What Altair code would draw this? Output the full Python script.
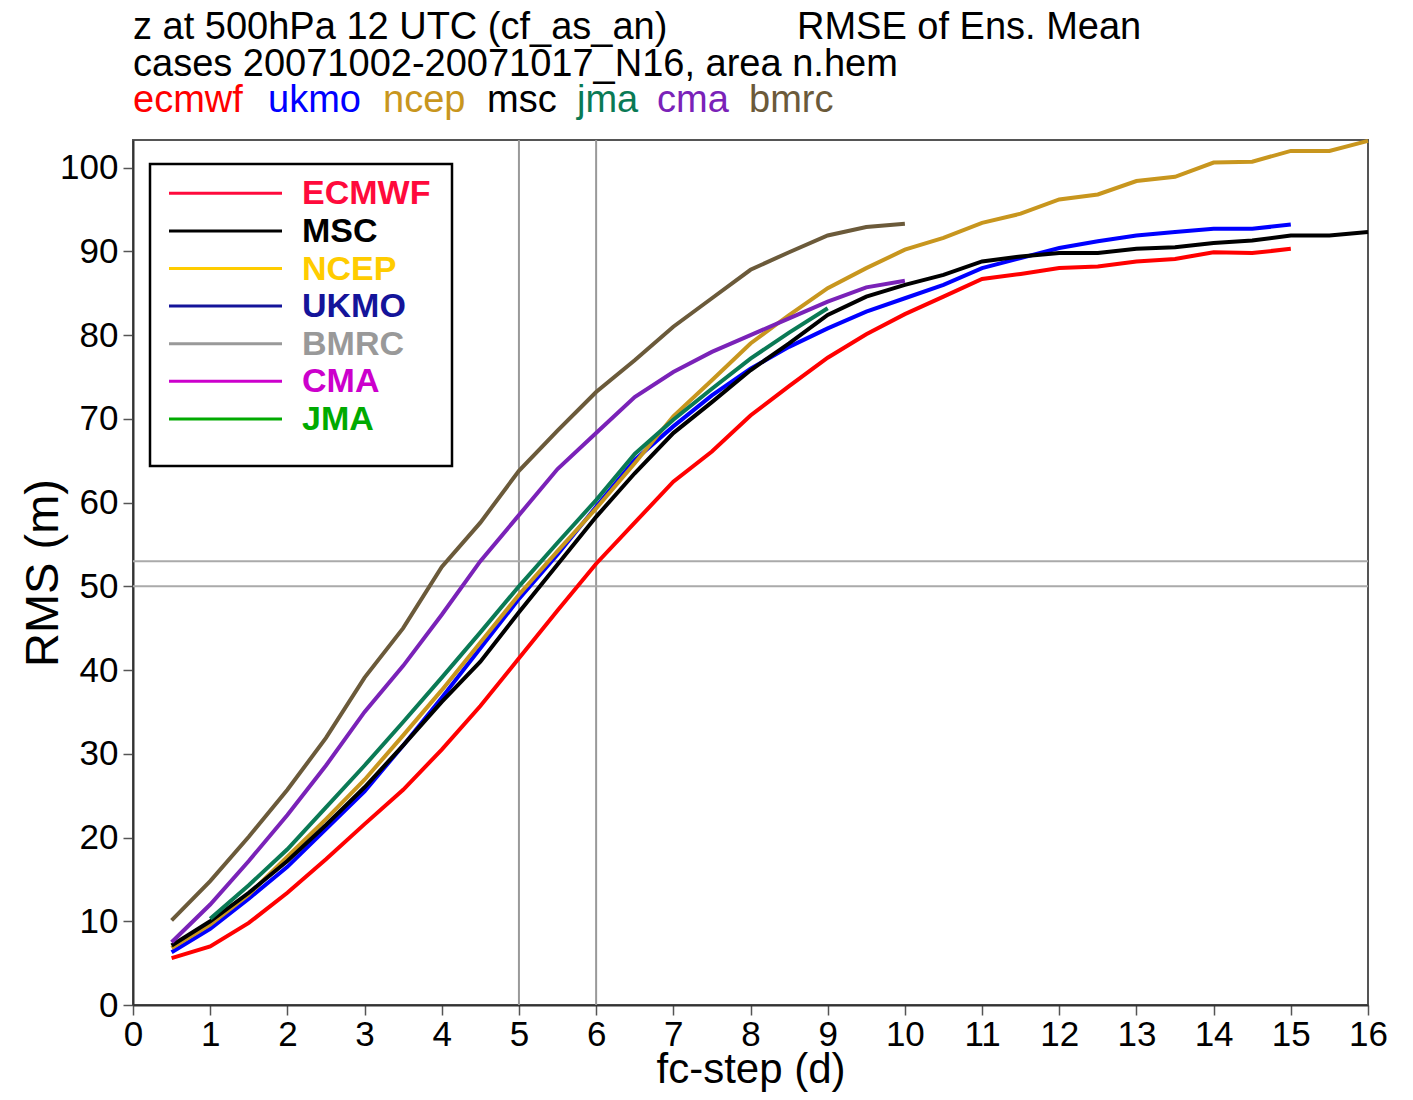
import altair as alt
import pandas as pd

# ---------------- data ----------------
steps = [0.5, 1.0, 1.5, 2.0, 2.5, 3.0, 3.5, 4.0, 4.5, 5.0, 5.5, 6.0, 6.5, 7.0, 7.5, 8.0,
         8.5, 9.0, 9.5, 10.0, 10.5, 11.0, 11.5, 12.0, 12.5, 13.0, 13.5, 14.0, 14.5, 15.0, 15.5, 16.0]

model_names = ["ecmwf", "ukmo", "ncep", "msc", "jma", "cma", "bmrc"]
model_colors = ["#ff0000", "#0000ff", "#c8961e", "#000000", "#0a7a55", "#7a22b8", "#6b5a3a"]
model_start = [0.5, 0.5, 0.5, 0.5, 1.0, 0.5, 0.5]

ecmwf = [5.6, 7.0, 9.8, 13.4, 17.4, 21.6, 25.7, 30.5, 35.7, 41.4, 47.1, 52.7, 57.6, 62.5, 66.1, 70.4,
         73.9, 77.3, 80.1, 82.5, 84.6, 86.7, 87.3, 88.0, 88.2, 88.8, 89.1, 89.9, 89.8, 90.3]
ukmo = [6.3, 9.1, 12.7, 16.5, 21.0, 25.5, 31.0, 36.7, 42.6, 48.5, 53.8, 59.5, 65.1, 69.1, 72.8, 76.0,
        78.6, 80.8, 82.8, 84.4, 86.0, 88.0, 89.2, 90.4, 91.2, 91.9, 92.3, 92.7, 92.7, 93.2]
ncep = [6.8, 9.6, 13.2, 17.7, 22.2, 26.9, 32.2, 37.6, 43.3, 49.0, 54.2, 59.3, 64.7, 70.3, 74.6, 79.0,
        82.4, 85.6, 88.0, 90.2, 91.6, 93.4, 94.5, 96.2, 96.8, 98.4, 98.9, 100.6, 100.7, 102.0, 102.0, 103.2]
msc = [7.1, 10.0, 13.4, 17.2, 21.5, 26.0, 31.0, 36.2, 41.0, 46.9, 52.6, 58.3, 63.5, 68.3, 72.0, 75.8,
       79.0, 82.4, 84.6, 86.0, 87.2, 88.8, 89.4, 89.8, 89.8, 90.3, 90.5, 91.0, 91.3, 91.9, 91.9, 92.3]
jma = [10.3, 14.3, 18.6, 23.6, 28.6, 33.8, 39.1, 44.5, 50.0, 55.2, 60.3, 65.8, 69.9, 73.6, 77.2,
       80.3, 83.2]
cma = [7.5, 12.0, 17.2, 22.7, 28.6, 35.0, 40.5, 46.6, 53.0, 58.5, 64.0, 68.3, 72.6, 75.6, 78.0, 80.0,
       82.0, 84.0, 85.7, 86.5]
bmrc = [10.1, 14.8, 20.1, 25.7, 31.9, 39.1, 45.0, 52.3, 57.6, 63.8, 68.6, 73.2, 77.0, 81.0, 84.4, 87.8,
        89.9, 91.9, 92.9, 93.3]

series_values = [ecmwf, ukmo, ncep, msc, jma, cma, bmrc]

ref_steps = [5, 6]
ref_levels = [50, 53]

x_ticks = list(range(0, 17))
y_ticks = list(range(0, 101, 10))

legend_labels = ["ECMWF", "MSC", "NCEP", "UKMO", "BMRC", "CMA", "JMA"]
legend_colors = ["#ff0a3c", "#000000", "#ffcc00", "#14149a", "#999999", "#cc00cc", "#00aa00"]

title_line1 = ["z at 500hPa 12 UTC (cf_as_an)", "RMSE of Ens. Mean"]
title_line2 = "cases 20071002-20071017_N16, area n.hem"

# ---------------- build tables ----------------
rows = []
for name, vals, start in zip(model_names, series_values, model_start):
    i0 = steps.index(start)
    for k, v in enumerate(vals):
        rows.append({"model": name, "step": steps[i0 + k], "rms": v})
df = pd.DataFrame(rows)

W, H = 1235, 865
xs = alt.Scale(domain=[0, 16], nice=False, zero=False)
ys = alt.Scale(domain=[0, 103.3], nice=False, zero=False)
FONT = "Liberation Sans"

lines = alt.Chart(df).mark_line(strokeWidth=4, strokeCap="butt").encode(
    x=alt.X("step:Q", scale=xs,
            axis=alt.Axis(values=x_ticks, format="d", title="fc-step (d)", titleFontSize=42,
                          titleBaseline="alphabetic", titleY=77, labelPadding=2,
                          labelFlush=False, labelOverlap=False)),
    y=alt.Y("rms:Q", scale=ys,
            axis=alt.Axis(values=y_ticks, format="d", title="RMS (m)", titleFontSize=47,
                          titleBaseline="alphabetic", titleX=-76, labelPadding=5,
                          labelFlush=False, labelOverlap=False)),
    color=alt.Color("model:N", scale=alt.Scale(domain=model_names, range=model_colors), legend=None),
    detail="model:N",
)

vrules = alt.Chart(pd.DataFrame({"s": ref_steps})).mark_rule(color="#999999", strokeWidth=2).encode(
    x=alt.X("s:Q", scale=xs)
)
hrules = alt.Chart(pd.DataFrame({"v": ref_levels})).mark_rule(color="#aaaaaa", strokeWidth=2).encode(
    y=alt.Y("v:Q", scale=ys)
)

# legend box (drawn manually, as in the original)
box = alt.Chart(pd.DataFrame({"a": [0]})).mark_rect(
    fill="white", stroke="black", strokeWidth=2.5
).encode(x=alt.value(17), x2=alt.value(319), y=alt.value(24), y2=alt.value(326))

leg_df = pd.DataFrame({
    "label": legend_labels,
    "col": legend_colors,
    "ly": [53.3 + 37.6 * i for i in range(len(legend_labels))],
})
leg_lines = alt.Chart(leg_df).mark_rule(strokeWidth=3).encode(
    x=alt.value(36), x2=alt.value(149),
    y=alt.Y("ly:Q", scale=None),
    stroke=alt.Stroke("col:N", scale=None),
)
leg_text = alt.Chart(leg_df).mark_text(
    align="left", baseline="middle", font=FONT, fontSize=34, fontWeight="bold", dy=1
).encode(
    x=alt.value(169),
    y=alt.Y("ly:Q", scale=None),
    text="label:N",
    fill=alt.Fill("col:N", scale=None),
)

# title lines (third line has coloured model names)
tdf = pd.DataFrame({
    "text": title_line1 + [title_line2] + model_names,
    "tx": [0, 664, 0, 0, 135, 250, 354, 444, 524, 616],
    "ty": [-101, -101, -64, -28, -28, -28, -28, -28, -28, -28],
    "tc": ["#000000", "#000000", "#000000"] + model_colors,
})
titles = alt.Chart(tdf).mark_text(
    align="left", baseline="alphabetic", font=FONT, fontSize=38
).encode(
    x=alt.X("tx:Q", scale=None),
    y=alt.Y("ty:Q", scale=None),
    text="text:N",
    fill=alt.Fill("tc:N", scale=None),
)

chart = alt.layer(vrules, hrules, lines, box, leg_lines, leg_text, titles).properties(
    width=W, height=H,
    autosize=alt.AutoSizeParams(type="none"),
    padding={"left": 125, "top": 132, "right": 30, "bottom": 87},
).configure_view(
    stroke="#555555", strokeWidth=2
).configure_axis(
    grid=False, domainColor="#333333", domainWidth=2, tickColor="#555555", tickWidth=1.5,
    tickSize=10, labelFont=FONT, labelFontSize=35, labelColor="black",
    titleFont=FONT, titleFontWeight="normal", titleColor="black",
)

chart.save("out.html", embed_options={"renderer": "svg", "actions": False})
